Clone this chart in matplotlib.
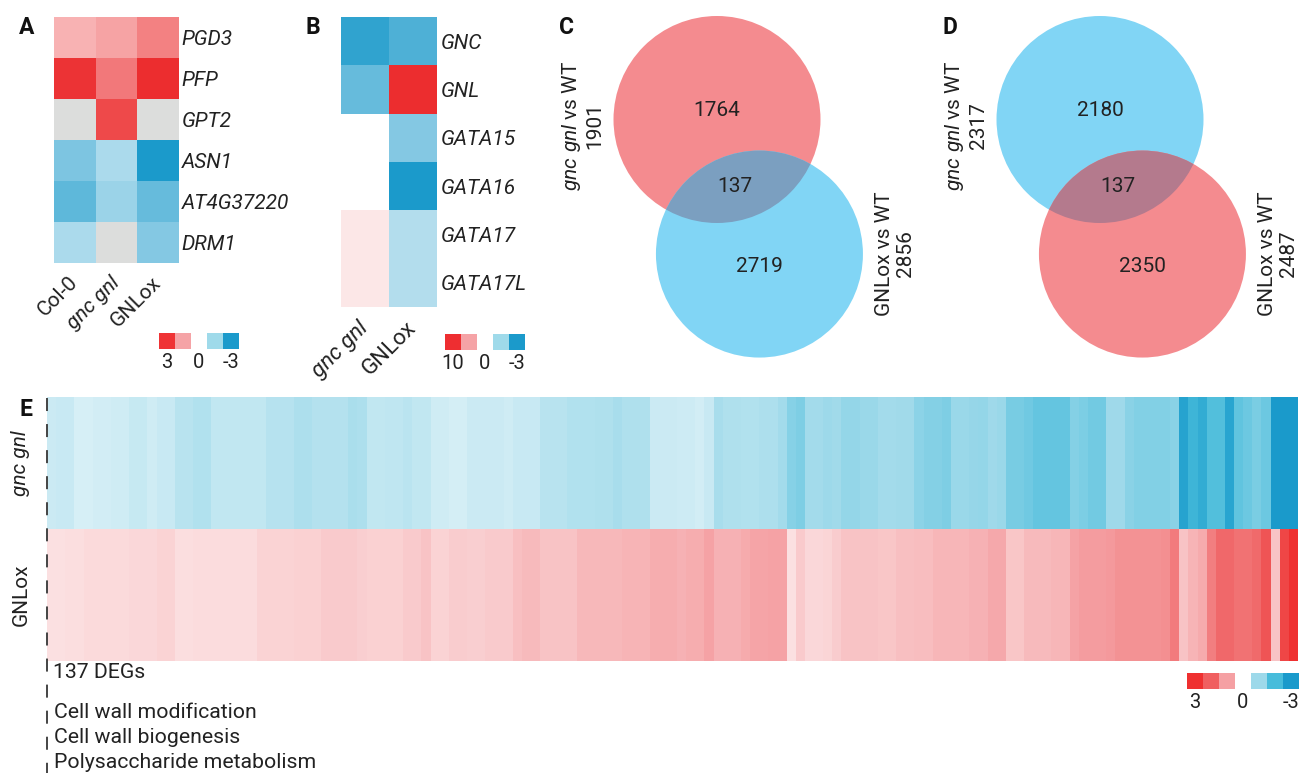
import numpy as np
import matplotlib
matplotlib.use("Agg")
import matplotlib.pyplot as plt
from matplotlib.colors import LinearSegmentedColormap, TwoSlopeNorm
from matplotlib.patches import Circle, Rectangle
from matplotlib.lines import Line2D

plt.rcParams['font.family'] = ['Roboto', 'DejaVu Sans']
plt.rcParams['mathtext.fontset'] = 'custom'
plt.rcParams['mathtext.rm'] = 'Roboto'
plt.rcParams['mathtext.it'] = 'Roboto:italic'
plt.rcParams['text.color'] = '#222222'
plt.rcParams['xtick.color'] = '#222222'
plt.rcParams['ytick.color'] = '#222222'

# ---- data ----
# A: z-scores of metabolic genes
a_genes = ['PGD3', 'PFP', 'GPT2', 'ASN1', 'AT4G37220', 'DRM1']
a_samples = ['Col-0', 'gnc gnl', 'GNLox']
a_col0 = [1.1, 2.9, np.nan, -1.7, -2.1, -1.1]
a_gncgnl = [1.3, 1.9, 2.6, -1.1, -1.3, np.nan]
a_gnlox = [1.8, 3.0, np.nan, -3.0, -2.0, -1.6]

# B: log2 fold change of GATA genes
b_genes = ['GNC', 'GNL', 'GATA15', 'GATA16', 'GATA17', 'GATA17L']
b_samples = ['gnc gnl', 'GNLox']
b_gncgnl = [-2.7, -2.0, np.nan, np.nan, 1.1, 1.1]
b_gnlox = [-2.3, 10.0, -1.6, -3.0, -1.0, -1.0]

# C / D: DEG overlaps (down / up regulated)
c_counts = [1764, 137, 2719]
c_totals = [1901, 2856]
d_counts = [2180, 137, 2350]
d_totals = [2317, 2487]

# E: the 137 shared DEGs
e_rows = ['gnc gnl', 'GNLox']
e_gncgnl = [
    -0.53, -0.56, -0.56, -0.42, -0.42, -0.45, -0.45, -0.47, -0.47, -0.57,
    -0.57, -0.48, -0.55, -0.55, -0.72, -0.72, -0.78, -0.78, -0.62, -0.62,
    -0.62, -0.63, -0.63, -0.63, -0.73, -0.73, -0.73, -0.84, -0.84, -0.76,
    -0.76, -0.76, -0.76, -0.85, -0.83, -0.61, -0.61, -0.65, -0.65, -0.69,
    -0.63, -0.63, -0.49, -0.49, -0.43, -0.43, -0.53, -0.53, -0.53, -0.53,
    -0.49, -0.55, -0.55, -0.55, -0.71, -0.71, -0.71, -0.78, -0.78, -0.78,
    -0.81, -0.81, -0.88, -0.80, -0.80, -0.80, -0.53, -0.53, -0.53, -0.51,
    -0.51, -0.45, -0.56, -0.88, -0.82, -0.82, -0.78, -0.78, -0.84, -0.84,
    -0.92, -1.26, -1.34, -0.92, -0.92, -1.00, -0.94, -1.09, -1.09, -1.03,
    -1.03, -0.93, -0.93, -0.94, -0.94, -1.19, -1.27, -1.27, -1.34, -1.02,
    -1.02, -1.06, -1.10, -0.97, -1.02, -1.42, -1.42, -1.52, -1.65, -1.65,
    -1.65, -1.65, -1.28, -1.37, -1.48, -1.48, -0.97, -0.97, -1.21, -1.30,
    -1.30, -1.30, -1.30, -1.21, -2.71, -2.20, -2.44, -1.86, -1.86, -2.67,
    -1.69, -1.55, -1.40, -1.55, -3.00, -3.00, -3.00,
]
e_gnlox = [
    0.32, 0.32, 0.33, 0.33, 0.39, 0.39, 0.39, 0.39, 0.39, 0.41,
    0.41, 0.41, 0.45, 0.45, 0.33, 0.33, 0.37, 0.37, 0.37, 0.37,
    0.37, 0.37, 0.37, 0.45, 0.45, 0.45, 0.45, 0.48, 0.48, 0.48,
    0.54, 0.54, 0.54, 0.54, 0.50, 0.48, 0.49, 0.49, 0.49, 0.55,
    0.55, 0.61, 0.46, 0.46, 0.53, 0.53, 0.51, 0.51, 0.55, 0.55,
    0.55, 0.66, 0.71, 0.71, 0.63, 0.63, 0.63, 0.63, 0.73, 0.73,
    0.73, 0.73, 0.73, 0.79, 0.79, 0.79, 0.86, 0.86, 0.86, 0.80,
    0.85, 0.85, 0.97, 0.82, 0.82, 0.82, 0.87, 0.94, 0.94, 0.97,
    0.97, 0.31, 0.55, 0.41, 0.41, 0.44, 0.52, 0.61, 0.61, 0.63,
    0.63, 0.60, 0.60, 0.66, 0.66, 0.68, 0.68, 0.76, 0.76, 0.77,
    0.77, 0.81, 0.81, 0.91, 0.91, 0.60, 0.60, 0.71, 0.71, 0.71,
    0.77, 0.77, 0.97, 1.05, 1.05, 1.05, 1.09, 1.20, 1.20, 1.20,
    1.20, 1.20, 1.25, 1.57, 0.61, 0.78, 0.89, 1.51, 1.83, 1.83,
    1.69, 1.69, 1.82, 2.21, 0.62, 2.53, 3.00,
]
go_terms = ['Cell wall modification', 'Cell wall biogenesis', 'Polysaccharide metabolism']

# ---- layout helpers (pixel boxes) ----
W, H = 1305, 773
fig = plt.figure(figsize=(W / 100, H / 100), dpi=100)


def box(x0, y0, x1, y1):
    return [x0 / W, 1 - y1 / H, (x1 - x0) / W, (y1 - y0) / H]


def ftext(x, y, s, **kw):
    return fig.text(x / W, 1 - y / H, s, **kw)


def strip(ax):
    for sp in ax.spines.values():
        sp.set_visible(False)
    ax.tick_params(length=0)


def swatch_legend(x0, y0, colors, labels, label_y):
    n = len(colors)
    lax = fig.add_axes(box(x0, y0, x0 + 16 * n, y0 + 16))
    lax.set_xlim(0, n)
    lax.set_ylim(0, 1)
    lax.axis('off')
    for i, c in enumerate(colors):
        if c is not None:
            lax.add_patch(Rectangle((i, 0), 1, 1, fc=c, ec='none'))
    for i, t in labels:
        lax.text(i + 0.5, -(label_y - y0 - 16) / 16, t, ha='center', va='center',
                 fontsize=14.5)


cmap_ab = LinearSegmentedColormap.from_list('ab', ['#1b9acb', '#ffffff', '#ec2d2f'])
cmap_e = LinearSegmentedColormap.from_list('e', [
    (0.0, '#1a9acb'), (1 / 6, '#47bcdb'), (2 / 6, '#9dd9ea'), (0.5, '#ffffff'),
    (4 / 6, '#f5a0a3'), (5 / 6, '#f05f60'), (1.0, '#ef3030')])

# ---- A ----
ax = fig.add_axes(box(54, 17, 179, 263))
cm = cmap_ab.copy()
cm.set_bad('#dcdddc')
a_mat = np.ma.masked_invalid(np.array([a_col0, a_gncgnl, a_gnlox]).T)
ax.imshow(a_mat, cmap=cm, vmin=-3, vmax=3, aspect='auto', interpolation='nearest')
ax.set_yticks(range(len(a_genes)))
ax.set_yticklabels(a_genes, style='italic', fontsize=15)
ax.yaxis.tick_right()
ax.set_xticks(range(len(a_samples)))
ax.set_xticklabels(a_samples, rotation=45, ha='right', va='center',
                   rotation_mode='anchor', fontsize=15)
ax.get_xticklabels()[1].set_style('italic')
strip(ax)
ax.tick_params(axis='y', pad=2)
ax.tick_params(axis='x', pad=12)
swatch_legend(159, 333, ['#ef3335', '#f5a3a6', None, '#9fdaea', '#1b9acb'],
              [(0, '3'), (2, '0'), (4, '-3')], 362)

# ---- B ----
ax = fig.add_axes(box(341, 17, 437, 307))
cm = cmap_ab.copy()
cm.set_bad('white')
b_mat = np.ma.masked_invalid(np.array([b_gncgnl, b_gnlox]).T)
ax.imshow(b_mat, cmap=cm, norm=TwoSlopeNorm(vmin=-3, vcenter=0, vmax=10),
          aspect='auto', interpolation='nearest')
ax.set_yticks(range(len(b_genes)))
ax.set_yticklabels(b_genes, style='italic', fontsize=15)
ax.yaxis.tick_right()
ax.set_xticks(range(len(b_samples)))
ax.set_xticklabels(b_samples, rotation=45, ha='right', va='center',
                   rotation_mode='anchor', fontsize=16)
ax.get_xticklabels()[0].set_style('italic')
strip(ax)
ax.tick_params(axis='y', pad=3)
ax.tick_params(axis='x', pad=13)
swatch_legend(445, 334, ['#ee2e31', '#f5a3a6', None, '#9fdaea', '#1b9acb'],
              [(0, '10'), (2, '0'), (4, '-3')], 363)

# ---- C / D: Venn diagrams (radius = 1 unit) ----
R_PX = 103.5
CENTER_A = (0.0, 0.0)
CENTER_B = (0.41, -1.30)
RED, BLUE = '#f48b8f', '#81d5f5'


def venn(x_origin, counts, totals, col_a, col_b, col_ab):
    vax = fig.add_axes(box(x_origin - 117, 10, x_origin + 163, 365))
    vax.set_xlim(-117 / R_PX, 163 / R_PX)
    vax.set_ylim(-(365 - 119.5) / R_PX, (119.5 - 10) / R_PX)
    vax.axis('off')
    ca = Circle(CENTER_A, 1, fc=col_a, ec='none')
    cb = Circle(CENTER_B, 1, fc=col_b, ec='none')
    vax.add_patch(ca)
    vax.add_patch(cb)
    cab = Circle(CENTER_B, 1, fc=col_ab, ec='none')
    vax.add_patch(cab)
    cab.set_clip_path(ca)
    mid = ((CENTER_A[0] + CENTER_B[0]) / 2 - 0.03, (CENTER_A[1] + CENTER_B[1]) / 2)
    vax.text(CENTER_A[0], CENTER_A[1] + 0.09, str(counts[0]), ha='center', va='center', fontsize=15)
    vax.text(mid[0], mid[1], str(counts[1]), ha='center', va='center', fontsize=15)
    vax.text(CENTER_B[0], CENTER_B[1] - 0.12, str(counts[2]), ha='center', va='center', fontsize=15)
    vax.text(-1.30, -0.06, r'$\mathit{gnc\ gnl}$ vs WT' + '\n' + str(totals[0]),
             rotation=90, ha='center', va='center', ma='center', fontsize=15,
             linespacing=1.15)
    vax.text(1.72, -1.295, 'GNLox vs WT\n' + str(totals[1]),
             rotation=90, ha='center', va='center', ma='center', fontsize=15,
             linespacing=1.15)


venn(717, c_counts, c_totals, RED, BLUE, '#7b9fc0')
venn(1100, d_counts, d_totals, BLUE, RED, '#b47a8d')

# ---- E ----
ax = fig.add_axes(box(47, 397, 1298, 661))
ax.imshow(np.array([e_gncgnl, e_gnlox]), cmap=cmap_e, vmin=-3, vmax=3,
          aspect='auto', interpolation='nearest')
ax.set_xticks([])
ax.set_yticks(range(len(e_rows)))
ax.set_yticklabels(e_rows, rotation=90, va='center', fontsize=15)
ax.get_yticklabels()[0].set_style('italic')
strip(ax)
ax.tick_params(axis='y', pad=12)
swatch_legend(1187, 673, ['#ef3030', '#f05f60', '#f5a0a3', None, '#9dd9ea', '#47bcdb', '#1a9acb'],
              [(0, '3'), (3, '0'), (6, '-3')], 702)

fig.add_artist(Line2D([46.7 / W] * 2, [1 - 398 / H, 0], transform=fig.transFigure,
                      color='#444444', lw=1.4, ls=(0, (6.7, 6.7))))
ftext(53, 673, '137 DEGs', fontsize=15.3, va='center')
for i, term in enumerate(go_terms):
    ftext(54, 712 + 25.5 * i, term, fontsize=15.3, va='center')

# panel letters
for letter, x, y in [('A', 27, 27), ('B', 313, 27), ('C', 567, 27), ('D', 950, 27), ('E', 26, 410)]:
    ftext(x, y, letter, fontsize=16.5, fontweight='bold', ha='center', va='center', color='#111111')

fig.savefig('out.png', dpi=100)
